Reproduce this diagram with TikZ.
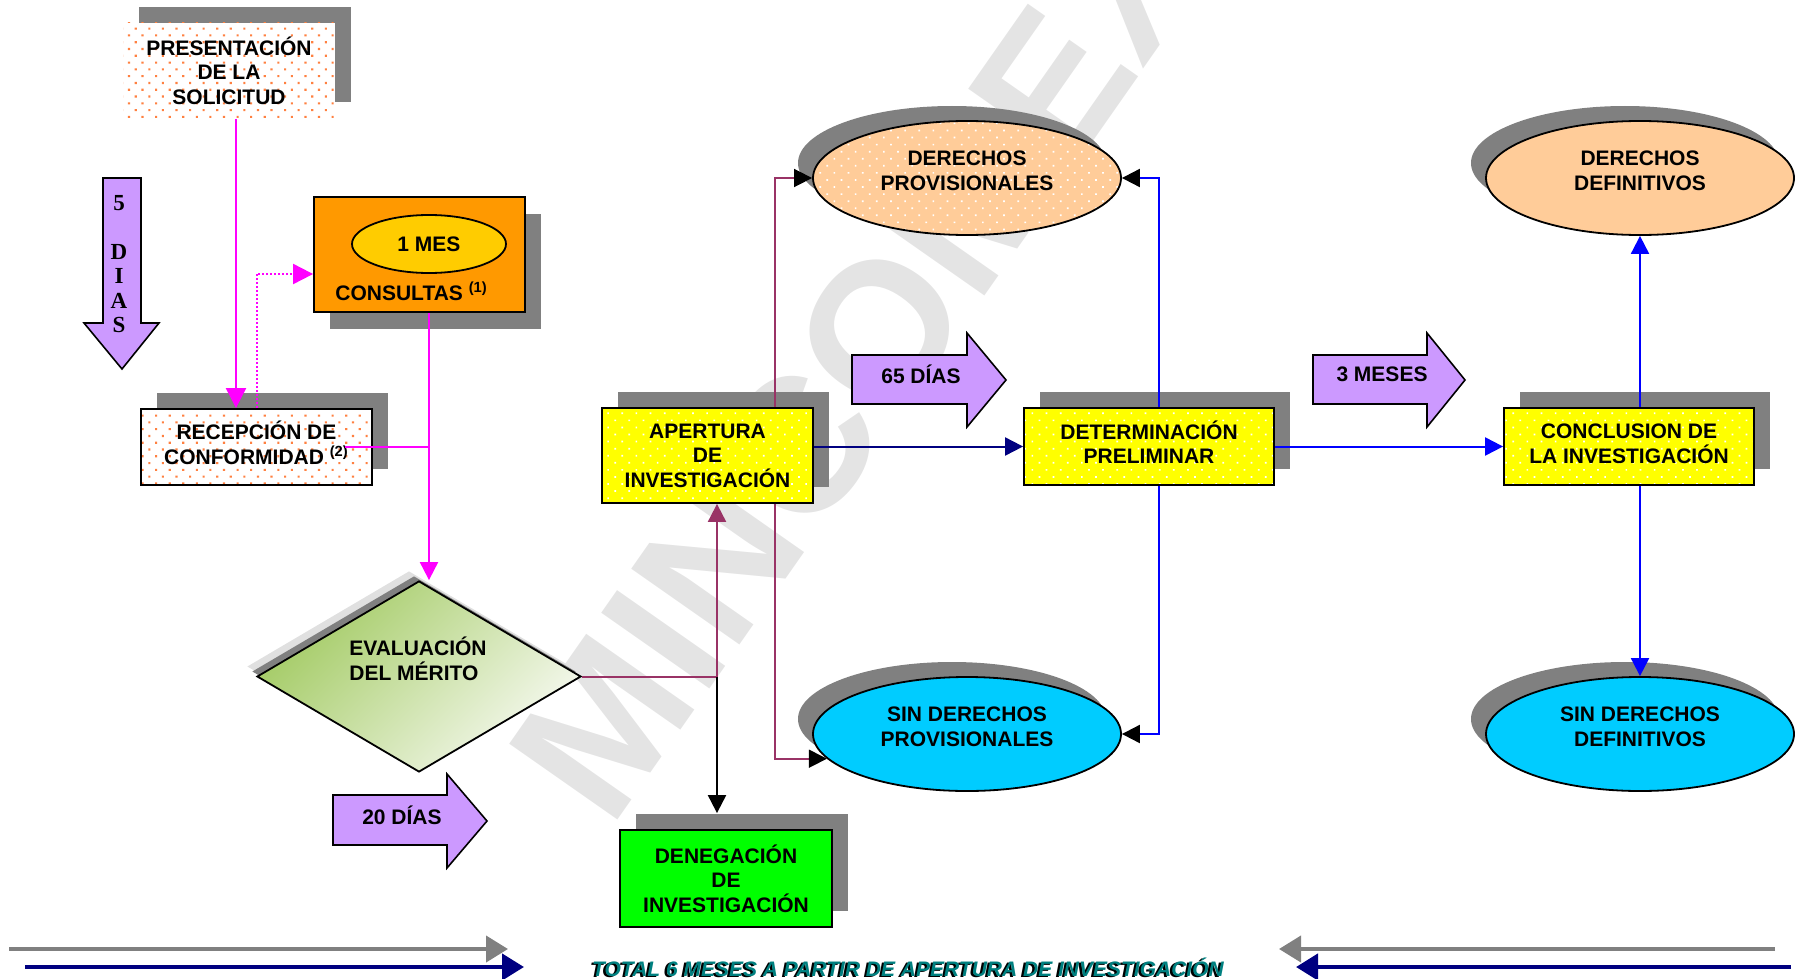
\documentclass[tikz,border=0pt]{standalone}
\usepackage{fontspec}
\setmainfont{Liberation Sans}
\newfontfamily\timesfont{Liberation Serif}
\usetikzlibrary{shapes.geometric, arrows.meta, patterns.meta, shadows}

\definecolor{shadowgray}{HTML}{808080}
\definecolor{lilac}{HTML}{CC99FF}
\definecolor{boxyellow}{HTML}{FFFF00}
\definecolor{consorange}{HTML}{FF9900}
\definecolor{mesgold}{HTML}{FFCC00}
\definecolor{peach}{HTML}{FFCC99}
\definecolor{skycyan}{HTML}{00CCFF}
\definecolor{denegreen}{HTML}{00FF00}
\definecolor{dotorange}{HTML}{FF8040}
\definecolor{magline}{HTML}{FF00FF}
\definecolor{maroonline}{HTML}{993366}
\definecolor{navyline}{HTML}{000080}
\definecolor{blueline}{HTML}{0000FF}
\definecolor{meritgreen}{HTML}{A2CA62}
\definecolor{meritlight}{HTML}{F6F9F0}
\definecolor{totalteal}{HTML}{008080}
\definecolor{markgray}{HTML}{E4E4E4}

\tikzset{
  shadow ur/.style={drop shadow={shadow xshift=8pt, shadow yshift=8pt, fill=shadowgray, opacity=1}},
  shadow dr/.style={drop shadow={shadow xshift=8pt, shadow yshift=-8.5pt, fill=shadowgray, opacity=1}},
  shadow ul/.style={drop shadow={shadow xshift=-7.5pt, shadow yshift=7.5pt, fill=shadowgray, opacity=1}},
  orangedots/.style={pattern={Dots[distance=4.8pt, angle=45, radius=0.75pt]}, pattern color=dotorange},
  whitedots/.style={pattern={Dots[distance=5pt, angle=45, radius=0.6pt]}, pattern color=white},
  stepbox/.style={rectangle, align=center, inner sep=0pt, line width=0.9pt},
  yellowbox/.style={stepbox, shadow ur, draw=black, preaction={fill=boxyellow}, whitedots},
  outcome/.style={ellipse, minimum width=154pt, minimum height=57pt, inner sep=0pt,
    draw=black, line width=0.9pt, shadow ul},
  dayarrow/.style={draw=black, fill=lilac, line width=0.8pt, line join=miter},
  conn/.style={line width=1pt},
  tip/.style={-{Triangle[length=9pt, width=9pt]}},
  blacktip/.style={-{Triangle[length=9pt, width=9pt, color=black]}},
}

\begin{document}
\begin{tikzpicture}[x=0.5pt, y=-0.5pt, font=\bfseries\fontsize{10.5}{12.3}\selectfont]
    % page
    \useasboundingbox (0,0) rectangle (1798,979);
    \clip (0,0) rectangle (1798,979);
    % watermark
    \node[rotate=55, text=markgray, inner sep=0pt,
          font=\bfseries\fontsize{96}{96}\selectfont] (watermark) at (859,360) {MINCOMEX};
    % request and reception
    \node[stepbox, shadow ur, minimum width=106pt, minimum height=47.5pt,
          preaction={fill=white}, orangedots] (pres) at (229,70.5) {PRESENTACIÓN\\DE LA\\SOLICITUD};
    \node[stepbox, shadow ur, draw=black, minimum width=115.5pt, minimum height=38pt,
          preaction={fill=white}, orangedots] (recep) at (256.5,447) {};
    \node[align=center] (receptxt) at (256.5,442.5) {RECEPCIÓN DE\\CONFORMIDAD \textsuperscript{(2)}};
    % consultations
    \node[stepbox, shadow dr, draw=black, fill=consorange, minimum width=105.5pt, minimum height=57.5pt] (cons) at (419.5,254.5) {};
    \node[ellipse, draw=black, line width=0.9pt, fill=mesgold, minimum width=77pt,
          minimum height=29pt, inner sep=0pt] (mes1) at (429,244) {1 MES};
    \node[anchor=base west, inner sep=0pt] (constxt) at (335,300) {CONSULTAS \textsuperscript{(1)}};
    % merit
    \node[diamond, minimum width=162pt, minimum height=95.5pt, inner sep=0pt,
          drop shadow={shadow xshift=-5pt, shadow yshift=5pt, fill=black!12, opacity=1},
          drop shadow={shadow xshift=-2.5pt, shadow yshift=2.5pt, fill=shadowgray, opacity=1},
          draw=black, line width=0.9pt, top color=meritgreen, bottom color=meritlight,
          shading angle=45] (merito) at (419,676.5) {};
    \node[align=left] (merittxt) at (418,659) {EVALUACIÓN\\DEL MÉRITO};
    % investigation boxes
    \node[yellowbox, minimum width=105.5pt, minimum height=47.5pt] (aper) at (707.5,455.5) {APERTURA\\DE\\INVESTIGACIÓN};
    \node[stepbox, shadow ur, draw=black, fill=denegreen, minimum width=106pt,
          minimum height=48.5pt] (deneg) at (726,878.5) {DENEGACIÓN\\DE\\INVESTIGACIÓN};
    \node[yellowbox, minimum width=125pt, minimum height=38.5pt] (detprel) at (1149,446.5) {};
    \node[align=center] (detpreltxt) at (1149,442) {DETERMINACIÓN\\PRELIMINAR};
    \node[yellowbox, minimum width=125pt, minimum height=38.5pt] (conc) at (1629,446.5) {};
    \node[align=center] (conctxt) at (1629,443.5) {CONCLUSION DE\\LA INVESTIGACIÓN};
    % outcomes
    \node[outcome, preaction={fill=peach}, whitedots] (derprov) at (967,178) {};
    \node[outcome, fill=skycyan] (sinprov) at (967,734) {};
    \node[outcome, fill=peach] (derdef) at (1640,178) {};
    \node[outcome, fill=skycyan] (sindef) at (1640,734) {};
    \node[align=center] (derprovtxt) at (967,171) {DERECHOS\\PROVISIONALES};
    \node[align=center] (sinprovtxt) at (967,727) {SIN DERECHOS\\PROVISIONALES};
    \node[align=center] (derdeftxt) at (1640,171) {DERECHOS\\DEFINITIVOS};
    \node[align=center] (sindeftxt) at (1640,727) {SIN DERECHOS\\DEFINITIVOS};
    % time arrows
    \draw[dayarrow] (103,178) -- (141,178) -- (141,323) -- (159,323) -- (122,369) -- (84,323) -- (103,323) -- cycle;
    \node[font=\timesfont\bfseries\fontsize{11.5}{12.25}\selectfont, align=center, inner sep=0pt]
          (dias5) at (119,264) {5\\[12.25pt]D\\I\\A\\S};
    \draw[dayarrow] (333,795) -- (447,795) -- (447,774) -- (487,821) -- (447,868) -- (447,845) -- (333,845) -- cycle;
    \node (dias20) at (402,815) {20 DÍAS};
    \draw[dayarrow] (852,355) -- (967,355) -- (967,333) -- (1006,380) -- (967,427) -- (967,404) -- (852,404) -- cycle;
    \node (dias65) at (921,374) {65 DÍAS};
    \draw[dayarrow] (1313,355) -- (1427,355) -- (1427,333) -- (1465,380) -- (1427,427) -- (1427,404) -- (1313,404) -- cycle;
    \node (meses3) at (1382,374) {3 MESES};
    % magenta connectors
    \draw[conn, magline, -{Triangle[length=10pt, width=10pt]}] ([xshift=3.5pt]pres.south) -- ([xshift=3.5pt]pres.south |- recep.north);
    \draw[conn, magline, dash pattern=on 1pt off 1pt, -{Triangle[length=10pt, width=10pt]}] (recep.north) |- ([yshift=-9.75pt]cons.west);
    \draw[conn, magline, tip] (mes1 |- cons.south) -- (mes1 |- merito.north);
    \draw[conn, magline] ([xshift=-14pt]recep.east) -- (mes1 |- recep.east);
    % merit outcome
    \coordinate (split) at (717,677);
    \draw[conn, maroonline, tip] (merito.east) -| (split |- aper.south);
    \draw[conn, black, tip] (split) -- ([yshift=8pt]split |- deneg.north);
    \draw[conn, maroonline, line width=0.8pt, blacktip] ([xshift=33.75pt]aper.north) |- (derprov.west);
    \draw[conn, maroonline, line width=0.8pt, blacktip] ([xshift=33.75pt]aper.south) |- (sinprov.190);
    % investigation flow
    \draw[conn, navyline, tip] (detprel.west -| aper.east) -- (detprel.west);
    \draw[conn, blueline, blacktip] ([xshift=5pt]detprel.north) |- (derprov.east);
    \draw[conn, blueline, blacktip] ([xshift=5pt]detprel.south) |- (sinprov.east);
    \draw[conn, blueline, tip] (detprel.east) -- (conc.west);
    \draw[conn, blueline, tip] (derdef.south |- conc.north) -- (derdef.south);
    \draw[conn, blueline, tip] (sindef.north |- conc.south) -- (sindef.north);
    % total time
    \coordinate (gl0) at (9,949);
    \coordinate (gl1) at (508,949);
    \coordinate (nl0) at (25,967);
    \coordinate (nl1) at (524,967);
    \coordinate (gr0) at (1775,949);
    \coordinate (gr1) at (1279,949);
    \coordinate (nr0) at (1791,967);
    \coordinate (nr1) at (1296,967);
    \draw[line width=2pt, shadowgray, -{Triangle[length=11pt, width=13pt]}] (gl0) -- (gl1);
    \draw[line width=2.2pt, navyline, -{Triangle[length=11pt, width=13pt]}] (nl0) -- (nl1);
    \draw[line width=2pt, shadowgray, -{Triangle[length=11pt, width=13pt]}] (gr0) -- (gr1);
    \draw[line width=2.2pt, navyline, -{Triangle[length=11pt, width=13pt]}] (nr0) -- (nr1);
    \node[text=black, font=\bfseries\itshape\fontsize{10.5}{12}\selectfont] (totalshadow) at (905.6,968.6)
          {TOTAL 6 MESES A PARTIR DE APERTURA DE INVESTIGACIÓN};
    \node[text=totalteal, font=\bfseries\itshape\fontsize{10.5}{12}\selectfont] (total) at (908,967)
          {TOTAL 6 MESES A PARTIR DE APERTURA DE INVESTIGACIÓN};
\end{tikzpicture}
\end{document}
